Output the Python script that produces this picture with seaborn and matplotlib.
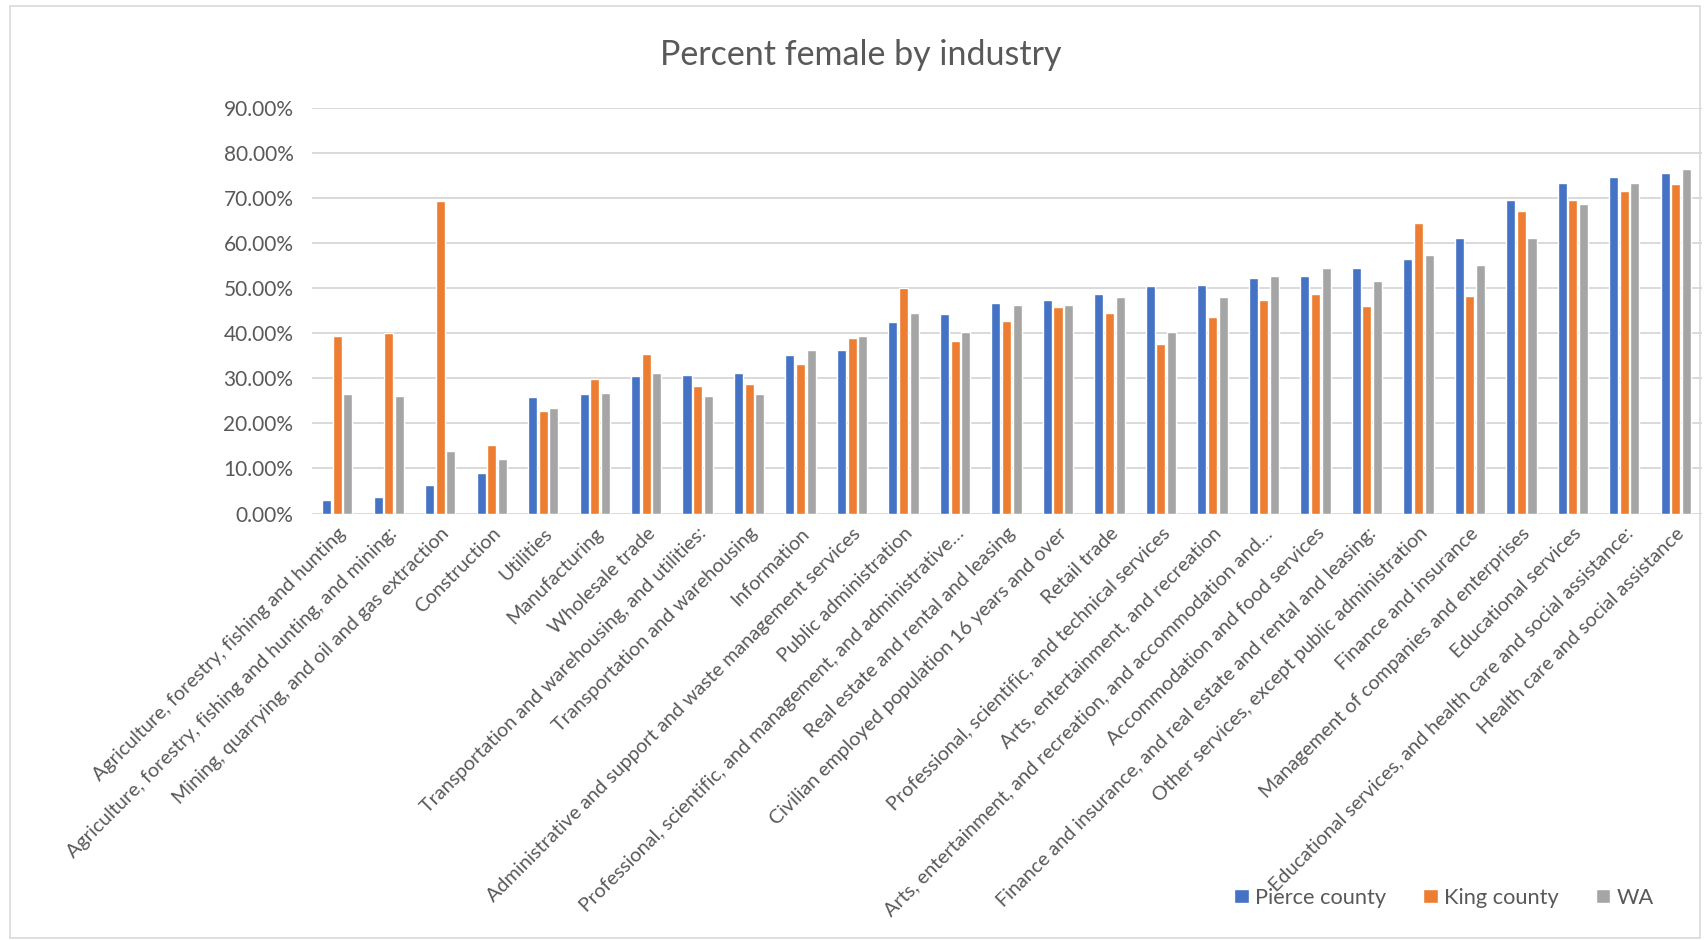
import pandas as pd
import matplotlib.pyplot as plt
import seaborn as sns
from matplotlib.patches import Rectangle

industries = [
    "Agriculture, forestry, fishing and hunting",
    "Agriculture, forestry, fishing and hunting, and mining:",
    "Mining, quarrying, and oil and gas extraction",
    "Construction",
    "Utilities",
    "Manufacturing",
    "Wholesale trade",
    "Transportation and warehousing, and utilities:",
    "Transportation and warehousing",
    "Information",
    "Administrative and support and waste management services",
    "Public administration",
    "Professional, scientific, and management, and administrative\u2026",
    "Real estate and rental and leasing",
    "Civilian employed population 16 years and over",
    "Retail trade",
    "Professional, scientific, and technical services",
    "Arts, entertainment, and recreation",
    "Arts, entertainment, and recreation, and accommodation and\u2026",
    "Accommodation and food services",
    "Finance and insurance, and real estate and rental and leasing:",
    "Other services, except public administration",
    "Finance and insurance",
    "Management of companies and enterprises",
    "Educational services",
    "Educational services, and health care and social assistance:",
    "Health care and social assistance",
]

pierce = [3.0, 3.7, 6.4, 9.0, 25.8, 26.6, 30.6, 30.7, 31.1, 35.1, 36.2, 42.5, 44.2, 46.8,
          47.5, 48.8, 50.5, 50.8, 52.2, 52.8, 54.6, 56.5, 61.1, 69.5, 73.4, 74.7, 75.5]
king = [39.4, 40.0, 69.4, 15.2, 22.8, 29.9, 35.4, 28.3, 28.8, 33.3, 39.0, 50.0, 38.4, 42.8,
        45.9, 44.5, 37.6, 43.7, 47.3, 48.8, 46.1, 64.6, 48.2, 67.2, 69.5, 71.7, 73.1]
wa = [26.5, 26.0, 13.9, 12.1, 23.4, 26.7, 31.1, 26.1, 26.6, 36.4, 39.4, 44.5, 40.2, 46.4,
      46.4, 48.1, 40.2, 48.1, 52.7, 54.5, 51.6, 57.5, 55.1, 61.2, 68.7, 73.4, 76.4]

series = ["Pierce county", "King county", "WA"]
colors = ["#4472C4", "#ED7D31", "#A5A5A5"]
text_color = "#595959"

df = pd.DataFrame({
    "industry": industries * 3,
    "area": [series[0]] * len(industries) + [series[1]] * len(industries) + [series[2]] * len(industries),
    "pct": pierce + king + wa,
})

sns.set_style("white")
plt.rcParams["font.family"] = ["Lato", "DejaVu Sans"]

fig = plt.figure(figsize=(17.07, 9.40), dpi=100)
ax = fig.add_axes([0.1825, 0.4537, 0.8143, 0.4313])

sns.barplot(data=df, x="industry", y="pct", hue="area", hue_order=series,
            palette=colors, width=0.62, gap=0.15, ax=ax, errorbar=None,
            saturation=1)

ax.set_ylim(0, 90)
ax.set_xlim(-0.5, len(industries) - 0.5)
ax.set_yticks(range(0, 91, 10))
ax.set_yticklabels([f"{v:.2f}%" for v in range(0, 91, 10)])
ax.yaxis.grid(True, color="#D9D9D9", lw=1.4)
ax.set_axisbelow(True)
for s in ax.spines.values():
    s.set_visible(False)
ax.tick_params(axis="y", length=0, pad=13, labelsize=15, labelcolor=text_color)
ax.tick_params(axis="x", length=0, pad=8, labelcolor=text_color)
ax.set_xticks(range(len(industries)))
ax.set_xticklabels(industries, rotation=45, ha="right", va="top",
                   rotation_mode="anchor", fontsize=14.2)
ax.set_xlabel("")
ax.set_ylabel("")

handles, labels = ax.get_legend_handles_labels()
ax.get_legend().remove()
fig.legend(handles, labels, loc="center", bbox_to_anchor=(0.846, 0.045), ncol=3,
           frameon=False, fontsize=15.7, labelcolor=text_color, handlelength=0.65,
           handleheight=0.65, handletextpad=0.3, columnspacing=1.7)

fig.text(0.504, 0.942, "Percent female by industry", ha="center", va="center",
         fontsize=24.5, color=text_color)

fig.patches.append(Rectangle((0.006, 0.002), 0.99, 0.992, transform=fig.transFigure,
                             fill=False, edgecolor="#D9D9D9", lw=1.2))

fig.savefig("out.png", dpi=100)
